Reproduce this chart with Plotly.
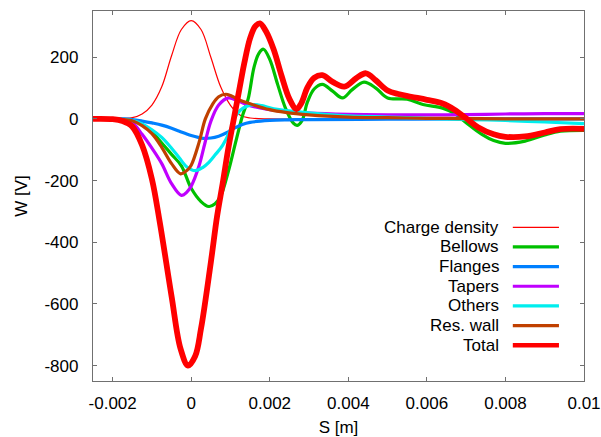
import plotly.graph_objects as go

# Wake potential components vs longitudinal position S [m]

s_charge = [-0.0025, -0.002, -0.0015, -0.00125, -0.001, -0.00075, -0.0005, -0.00025, 0.0,
            0.00025, 0.0005, 0.00075, 0.001, 0.00125, 0.0015, 0.002, 0.004, 0.007, 0.01]
w_charge = [0, 0, 4, 16, 45, 104, 205, 290, 319, 290, 200, 104, 44, 12, 3, 0, 0, 0, 0]

s_bellows = [-0.0025, -0.002, -0.0015, -0.00125, -0.001, -0.00075, -0.0005, -0.00025, 0.0,
             0.00025, 0.00045, 0.0006, 0.00075, 0.00095, 0.00113, 0.0013, 0.00145, 0.0016,
             0.00172, 0.00184, 0.002, 0.0022, 0.0024, 0.0026, 0.0027, 0.00282, 0.00296,
             0.00313, 0.00334, 0.0036, 0.00385, 0.0041, 0.0044, 0.0047, 0.005, 0.0055,
             0.0059, 0.0064, 0.0067, 0.007, 0.0074, 0.0077, 0.008, 0.0085, 0.009, 0.0094, 0.01]
w_bellows = [0, 0, -5, -18, -42, -78, -115, -152, -225, -268, -284, -276, -250, -168, -76,
             8, 65, 168, 212, 226, 193, 112, 35, -14, -21, -6, 55, 97, 112, 90, 68, 95, 119,
             100, 68, 64, 47, 35, 18, -12, -50, -70, -79, -72, -52, -40, -37]

s_flanges = [-0.0025, -0.0017, -0.0015, -0.00125, -0.001, -0.00075, -0.0005, -0.0003, 0.0,
             0.0003, 0.0005, 0.0007, 0.0009, 0.0011, 0.0013, 0.0015, 0.002, 0.0025, 0.003,
             0.005, 0.007, 0.01]
w_flanges = [0, 0, -2, -7, -13, -20, -30, -40, -54, -63, -62, -56, -45, -30, -18, -11, -5,
             -3, -2, -1, 0, 0]

s_tapers = [-0.0025, -0.002, -0.0017, -0.0015, -0.00125, -0.001, -0.00075, -0.0005, -0.00025,
            -0.0001, 0.0, 0.0002, 0.00035, 0.0005, 0.0007, 0.00095, 0.0012, 0.0015, 0.002,
            0.0025, 0.003, 0.004, 0.005, 0.006, 0.007, 0.008, 0.009, 0.01]
w_tapers = [0, 0, -3, -12, -50, -95, -145, -210, -248, -236, -218, -152, -78, -8, 45, 68, 58,
            43, 30, 23, 19, 15, 13, 13, 14, 16, 17, 17]

s_others = [-0.0025, -0.002, -0.0015, -0.00125, -0.001, -0.00075, -0.0005, -0.0003, -0.0001,
            0.0001, 0.0003, 0.00045, 0.0006, 0.0008, 0.001, 0.0011, 0.00125, 0.0014, 0.0016,
            0.0018, 0.0021, 0.0028, 0.0035, 0.004, 0.005, 0.006, 0.007, 0.008, 0.009, 0.01]
w_others = [0, 0, -5, -16, -35, -60, -95, -127, -157, -168, -157, -141, -118, -86, -35, 3,
            28, 40, 46, 43, 33, 22, 14, 10, 6, 2, -2, -5, -10, -15]

s_reswall = [-0.0025, -0.002, -0.0015, -0.00125, -0.001, -0.00075, -0.0005, -0.00027, -0.0001,
             0.0, 0.0002, 0.00036, 0.00055, 0.0007, 0.00088, 0.001, 0.0012, 0.0015, 0.002,
             0.0024, 0.003, 0.004, 0.005, 0.006, 0.007, 0.008, 0.01]
w_reswall = [0, 0, -6, -22, -48, -92, -145, -178, -166, -150, -76, 0, 49, 72, 80, 76, 63, 49,
             30, 21, 13, 6, 4, 2, 1, 0, 0]

s_total = [-0.0025, -0.002, -0.00175, -0.0015, -0.00125, -0.001, -0.0008, -0.0005, -0.00027,
           -0.00008, 0.0001, 0.00025, 0.0005, 0.00066, 0.0008, 0.00095, 0.0011, 0.00126,
           0.00135, 0.0015, 0.00163, 0.00175, 0.0019, 0.0021, 0.0023, 0.0025, 0.00268,
           0.0028, 0.00296, 0.00313, 0.00334, 0.0036, 0.0039, 0.0042, 0.00445, 0.0047, 0.005,
           0.0053, 0.0056, 0.006, 0.0064, 0.0067, 0.007, 0.0073, 0.0077, 0.008, 0.0085,
           0.009, 0.0094, 0.01]
w_total = [0, -1, -7, -25, -85, -195, -335, -575, -746, -800, -770, -680, -465, -315, -210,
           -92, 10, 120, 180, 262, 300, 310, 285, 225, 140, 65, 32, 50, 102, 133, 142, 120,
           105, 132, 148, 125, 92, 80, 72, 62, 50, 30, 2, -27, -50, -58, -57, -44, -33, -32]

x_tickvals = [-0.002, 0.0, 0.002, 0.004, 0.006, 0.008, 0.01]
x_ticktext = ["-0.002", "0", "0.002", "0.004", "0.006", "0.008", "0.01"]
y_tickvals = [200, 0, -200, -400, -600, -800]
y_ticktext = ["200", "0", "-200", "-400", "-600", "-800"]

series = [
    ("Charge density", s_charge, w_charge, "#ff0000", 1.2),
    ("Bellows", s_bellows, w_bellows, "#00c000", 3.2),
    ("Flanges", s_flanges, w_flanges, "#0080ff", 3.2),
    ("Tapers", s_tapers, w_tapers, "#c000ff", 3.2),
    ("Others", s_others, w_others, "#00eeee", 3.2),
    ("Res. wall", s_reswall, w_reswall, "#c04000", 3.2),
    ("Total", s_total, w_total, "#ff0000", 5.8),
]

FONT = "Liberation Sans, Arial, Helvetica, sans-serif"

fig = go.Figure()
for name, s, w, color, width in series:
    fig.add_trace(go.Scatter(
        x=s, y=w, mode="lines", name=name,
        line=dict(color=color, width=width, shape="spline", smoothing=1.0),
        showlegend=False,
    ))

# key in the lower right: right-aligned label followed by a line sample
key_top = 0.4154
key_step = 0.0531
shapes = []
annotations = []
for i, (name, s, w, color, width) in enumerate(series):
    yk = key_top - i * key_step
    annotations.append(dict(
        x=0.831, y=yk, xref="paper", yref="paper", text=name, showarrow=False,
        xanchor="right", yanchor="middle", font=dict(family=FONT, size=17, color="#000000"),
    ))
    shapes.append(dict(
        type="line", xref="paper", yref="paper", x0=0.855, x1=0.949, y0=yk, y1=yk,
        line=dict(color=color, width=min(width, 4.5)),
    ))

axis_common = dict(
    showgrid=False, zeroline=False, showline=True, linecolor="#707070", linewidth=1.3,
    mirror="allticks", ticks="inside", ticklen=4, tickwidth=1, tickcolor="#707070",
    tickfont=dict(family=FONT, size=17, color="#000000"), automargin=False,
)

fig.update_layout(
    width=601, height=437,
    margin=dict(l=93, r=17, t=11, b=56),
    paper_bgcolor="white", plot_bgcolor="white",
    font=dict(family=FONT, size=17, color="#000000"),
    xaxis=dict(range=[-0.0025, 0.01], tickvals=x_tickvals, ticktext=x_ticktext,
               ticklabelstandoff=6,
               title=dict(text="S [m]", font=dict(family=FONT, size=17), standoff=13),
               **axis_common),
    yaxis=dict(range=[-850, 350], tickvals=y_tickvals, ticktext=y_ticktext,
               ticklabelstandoff=10,
               title=dict(text="W [V]", font=dict(family=FONT, size=17), standoff=12),
               **axis_common),
    shapes=shapes,
    annotations=annotations,
)

fig.write_html("out.html")
